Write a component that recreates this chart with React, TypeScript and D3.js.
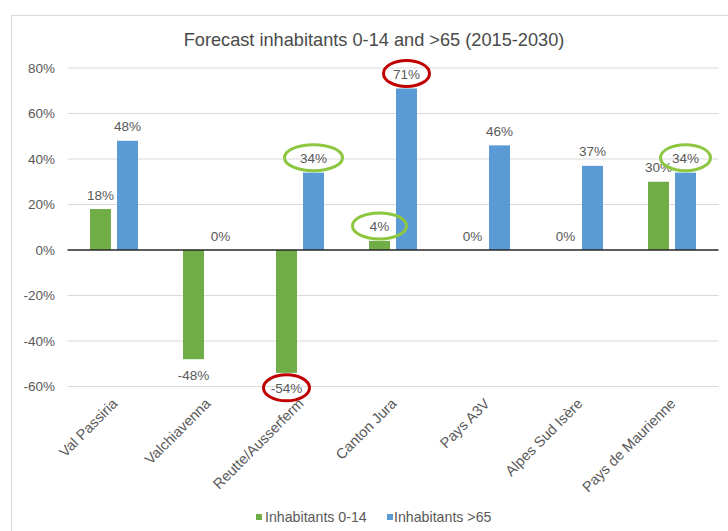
import React from "react";
import * as d3 from "d3";

const categories = [
  "Val Passiria",
  "Valchiavenna",
  "Reutte/Ausserferm",
  "Canton Jura",
  "Pays A3V",
  "Alpes Sud Isère",
  "Pays de Maurienne",
];
const youngValues = [0.18, -0.48, -0.54, 0.04, 0, 0, 0.3];
const olderValues = [0.48, 0, 0.34, 0.71, 0.46, 0.37, 0.34];
const seriesNames = ["Inhabitants 0-14", "Inhabitants >65"];
const yTicks = [-0.6, -0.4, -0.2, 0, 0.2, 0.4, 0.6, 0.8];
// highlighted labels: category index, series index, ring colour
const highlights = [
  { cat: 2, series: 1, color: "#8DC63F", rx: 29 },
  { cat: 3, series: 0, color: "#8DC63F", rx: 27 },
  { cat: 3, series: 1, color: "#C00000", rx: 23 },
  { cat: 2, series: 0, color: "#C00000", rx: 23 },
  { cat: 6, series: 1, color: "#8DC63F", rx: 25 },
];

const W = 728;
const H = 531;
const colors = ["#70AD47", "#5B9BD5"];
const textColor = "#595959";
const font = "'Liberation Sans', Arial, sans-serif";

export default function App() {
  const x = d3.scaleBand<string>().domain(categories).range([67.5, 718.5]).padding(0);
  const y = d3.scaleLinear().domain([-0.6, 0.8]).range([386.5, 68]);
  const inner = d3
    .scaleBand<string>()
    .domain(seriesNames)
    .range([-24, 24])
    .paddingInner(6 / 27);
  const data = [youngValues, olderValues];
  const fmt0 = d3.format(".0%");
  const fmt = (v: number) => fmt0(v).replace("\u2212", "-");

  const labelPos = (ci: number, si: number) => {
    const v = data[si][ci];
    const cx = (x(categories[ci]) as number) + x.bandwidth() / 2;
    const bx = cx + (inner(seriesNames[si]) as number) + inner.bandwidth() / 2;
    const ly = v < 0 ? y(v) + 16 : y(v) - 14;
    return { x: bx, y: ly };
  };

  return (
    <div style={{ position: "absolute", left: 0, top: 0 }}>
      <svg width={W} height={H} style={{ display: "block", fontFamily: font }}>
        <rect x={0} y={0} width={W} height={H} fill="#fff" />
        <rect x={11.5} y={15.5} width={W + 20} height={H + 20} fill="#fff" stroke="#D9D9D9" strokeWidth={1} />
        <text x={374} y={40} textAnchor="middle" dominantBaseline="central" fontSize={18.2} fill="#4a4a4a">
          Forecast inhabitants 0-14 and &gt;65 (2015-2030)
        </text>
        {yTicks.map((t) => (
          <g key={t}>
            {t !== 0 && (
              <line x1={67.5} x2={718.5} y1={y(t)} y2={y(t)} stroke="#D9D9D9" strokeWidth={1} />
            )}
            <text x={55} y={y(t)} textAnchor="end" dominantBaseline="central" fontSize={13.5} fill={textColor}>
              {fmt(t)}
            </text>
          </g>
        ))}
        {categories.map((c, ci) => {
          const cx = (x(c) as number) + x.bandwidth() / 2;
          return (
            <g key={c}>
              {data.map((vals, si) => {
                const v = vals[ci];
                const bx = cx + (inner(seriesNames[si]) as number);
                return (
                  <rect
                    key={si}
                    x={bx}
                    width={inner.bandwidth()}
                    y={Math.min(y(v), y(0))}
                    height={Math.abs(y(v) - y(0))}
                    fill={colors[si]}
                  />
                );
              })}
              {data.map((vals, si) => {
                const p = labelPos(ci, si);
                return (
                  <text
                    key={"l" + si}
                    x={p.x}
                    y={p.y}
                    textAnchor="middle"
                    dominantBaseline="central"
                    fontSize={13.5}
                    fill={textColor}
                  >
                    {fmt(vals[ci])}
                  </text>
                );
              })}
              <text
                transform={`translate(${cx + 1},${401}) rotate(-45)`}
                textAnchor="end"
                dominantBaseline="central"
                fontSize={14.5}
                fill={textColor}
              >
                {c}
              </text>
            </g>
          );
        })}
        <line x1={67.5} x2={718.5} y1={y(0)} y2={y(0)} stroke="#262626" strokeWidth={1.5} />
        {highlights.map((h, i) => {
          const p = labelPos(h.cat, h.series);
          return (
            <ellipse
              key={i}
              cx={p.x}
              cy={p.y - 1}
              rx={h.rx}
              ry={13}
              fill="none"
              stroke={h.color}
              strokeWidth={3}
            />
          );
        })}
        <g>
          <rect x={256} y={514} width={6} height={6} fill={colors[0]} />
          <text x={265} y={517} dominantBaseline="central" fontSize={14.2} fill={textColor}>
            {seriesNames[0]}
          </text>
          <rect x={387} y={514} width={6} height={6} fill={colors[1]} />
          <text x={394} y={517} dominantBaseline="central" fontSize={14.2} fill={textColor}>
            {seriesNames[1]}
          </text>
        </g>
      </svg>
    </div>
  );
}
